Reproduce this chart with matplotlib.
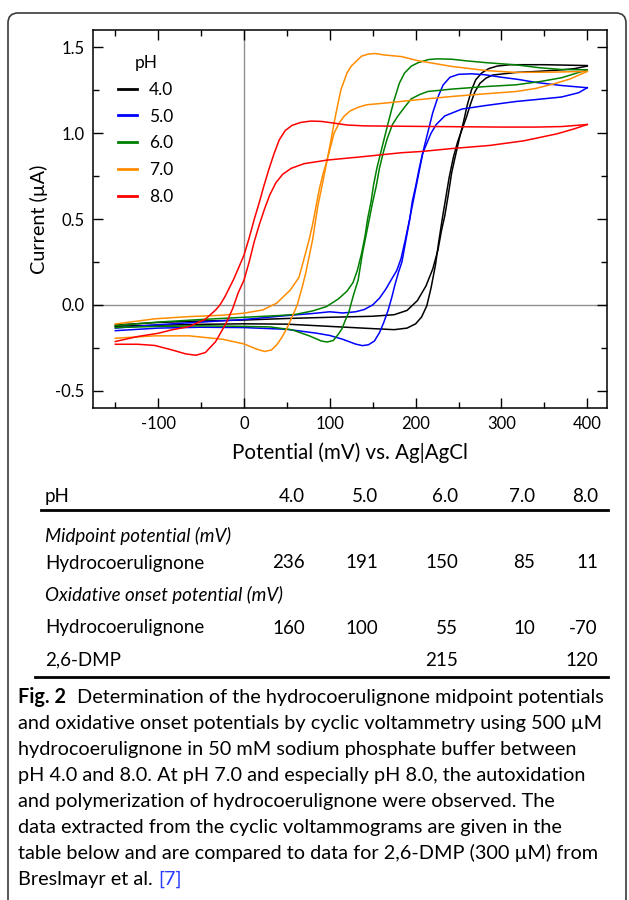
import matplotlib
matplotlib.use("Agg")
import matplotlib.pyplot as plt
from matplotlib.patches import FancyBboxPatch
from matplotlib.lines import Line2D
from matplotlib.ticker import MultipleLocator
from matplotlib.transforms import IdentityTransform

plt.rcParams['font.family'] = ['Lato', 'DejaVu Sans']
plt.rcParams['axes.unicode_minus'] = False

# ---- cyclic voltammograms ----
ph_labels = ["4.0", "5.0", "6.0", "7.0", "8.0"]
ph_colors = ["black", "#0000ff", "#008000", "#ff8c00", "#ff0000"]

# pH 4.0
e_fwd_40 = [-150, -100, -50, 0, 50, 100, 150, 175, 190, 202, 212, 220, 226, 230, 234, 238, 242,
            246, 251, 256, 260, 265, 270, 277, 285, 295, 310, 350, 400]
i_fwd_40 = [-0.117, -0.102, -0.094, -0.088, -0.079, -0.072, -0.066, -0.057, -0.032, 0.025, 0.11, 0.21,
            0.32, 0.43, 0.52, 0.64, 0.77, 0.86, 0.97, 1.07, 1.16, 1.25, 1.31, 1.35, 1.375, 1.39, 1.398,
            1.398, 1.393]
e_rev_40 = [-150, -100, -50, 0, 50, 100, 150, 175, 190, 200, 207, 213, 218, 223, 227, 231, 235, 239,
            244, 249, 254, 259, 264, 269, 275, 282, 290, 317, 345, 370, 385, 400]
i_rev_40 = [-0.124, -0.118, -0.113, -0.11, -0.112, -0.125, -0.138, -0.144, -0.135, -0.11, -0.07, -0.005,
            0.1, 0.23, 0.37, 0.5, 0.62, 0.74, 0.86, 0.95, 1.02, 1.09, 1.17, 1.24, 1.29, 1.32, 1.338,
            1.353, 1.36, 1.368, 1.375, 1.39]

# pH 5.0
e_fwd_50 = [-150, -100, -50, 0, 50, 80, 100, 115, 130, 140, 150, 158, 165, 172, 178, 183, 188, 193,
            197, 201, 205, 209, 214, 220, 226, 232, 240, 250, 265, 280, 300, 320, 340, 370, 400]
i_fwd_50 = [-0.135, -0.115, -0.1, -0.085, -0.062, -0.05, -0.04, -0.047, -0.04, -0.027, 0.0, 0.04, 0.09,
            0.15, 0.2, 0.27, 0.38, 0.5, 0.6, 0.7, 0.8, 0.9, 1.0, 1.12, 1.21, 1.28, 1.325, 1.342, 1.345,
            1.34, 1.325, 1.312, 1.295, 1.277, 1.264]
e_rev_50 = [-150, -100, -50, 0, 50, 85, 100, 115, 130, 138, 145, 152, 158, 163, 168, 172, 176, 180,
            184, 188, 193, 196, 200, 204, 208, 213, 218, 224, 234, 254, 281, 317, 340, 370, 390, 400]
i_rev_50 = [-0.15, -0.135, -0.13, -0.132, -0.142, -0.165, -0.178, -0.2, -0.228, -0.237, -0.232, -0.21,
            -0.16, -0.1, -0.03, 0.04, 0.12, 0.19, 0.25, 0.36, 0.494, 0.6, 0.69, 0.79, 0.88, 0.94, 1.0,
            1.05, 1.1, 1.14, 1.16, 1.184, 1.195, 1.21, 1.235, 1.264]

# pH 6.0
e_fwd_60 = [-150, -100, -50, 0, 40, 60, 80, 96, 110, 120, 127, 132, 137, 141, 144, 148, 151, 155, 159,
            163, 168, 175, 181, 187, 195, 203, 215, 225, 242, 260, 282, 317, 345, 370, 400]
i_fwd_60 = [-0.12, -0.1, -0.085, -0.072, -0.062, -0.055, -0.035, -0.01, 0.035, 0.08, 0.13, 0.2, 0.3, 0.4,
            0.5, 0.6, 0.7, 0.8, 0.88, 0.96, 1.06, 1.194, 1.29, 1.349, 1.39, 1.41, 1.428, 1.432, 1.43,
            1.42, 1.41, 1.397, 1.38, 1.37, 1.368]
e_rev_60 = [-150, -100, -50, 0, 30, 56, 76, 90, 97, 104, 110, 114, 118, 122, 127, 133, 138, 142, 146,
            150, 154, 158, 163, 167, 173, 179, 187, 195, 205, 214, 242, 282, 317, 345, 370, 400]
i_rev_60 = [-0.132, -0.125, -0.122, -0.125, -0.128, -0.145, -0.18, -0.21, -0.216, -0.207, -0.17, -0.14,
            -0.09, -0.045, 0.048, 0.145, 0.3, 0.4, 0.5, 0.6, 0.69, 0.8, 0.9, 0.97, 1.05, 1.097, 1.15,
            1.2, 1.225, 1.242, 1.256, 1.271, 1.281, 1.3, 1.322, 1.368]

# pH 7.0
e_fwd_70 = [-150, -104, -64, -25, 0, 22, 38, 54, 64, 70, 76, 80, 84, 88, 92, 97, 101, 105, 109, 113,
            120, 125, 137, 145, 153, 163, 184, 202, 242, 282, 317, 360, 400]
i_fwd_70 = [-0.111, -0.081, -0.068, -0.06, -0.048, -0.029, 0.01, 0.087, 0.16, 0.27, 0.382, 0.47, 0.576,
            0.68, 0.76, 0.847, 0.95, 1.06, 1.16, 1.254, 1.35, 1.39, 1.448, 1.46, 1.463, 1.455, 1.445,
            1.422, 1.388, 1.364, 1.353, 1.355, 1.359]
e_rev_70 = [-150, -104, -64, -25, 0, 15, 24, 32, 38, 44, 50, 58, 62, 68, 72, 80, 86, 92, 97, 105, 111,
            117, 124, 133, 143, 163, 202, 242, 282, 317, 340, 360, 380, 400]
i_rev_70 = [-0.194, -0.18, -0.18, -0.2, -0.227, -0.258, -0.271, -0.262, -0.233, -0.19, -0.136, -0.048,
            0.0, 0.107, 0.188, 0.382, 0.576, 0.72, 0.847, 1.0, 1.06, 1.1, 1.13, 1.15, 1.165, 1.174,
            1.194, 1.213, 1.229, 1.242, 1.26, 1.285, 1.315, 1.359]

# pH 8.0
e_fwd_80 = [-150, -124, -100, -84, -64, -45, -33, -28, -22, -17, -12, -6, 0, 6, 12, 18, 23, 29, 35, 41,
            48, 56, 66, 78, 90, 105, 120, 140, 180, 250, 300, 340, 370, 400]
i_fwd_80 = [-0.213, -0.184, -0.165, -0.145, -0.126, -0.083, -0.029, 0.0, 0.05, 0.1, 0.15, 0.22, 0.29,
            0.39, 0.5, 0.6, 0.69, 0.79, 0.88, 0.96, 1.015, 1.045, 1.062, 1.07, 1.068, 1.058, 1.047,
            1.042, 1.04, 1.037, 1.035, 1.035, 1.038, 1.05]
e_rev_80 = [-150, -124, -104, -84, -68, -56, -45, -33, -21, -13, -7, 0, 6, 12, 18, 24, 30, 37, 45, 55,
            70, 97, 137, 184, 207, 242, 286, 326, 365, 385, 400]
i_rev_80 = [-0.229, -0.229, -0.236, -0.262, -0.285, -0.293, -0.277, -0.213, -0.107, -0.019, 0.068,
            0.145, 0.25, 0.37, 0.47, 0.56, 0.64, 0.71, 0.76, 0.795, 0.822, 0.843, 0.862, 0.886, 0.893,
            0.91, 0.928, 0.955, 0.996, 1.025, 1.05]

scans = [(e_fwd_40, i_fwd_40, e_rev_40, i_rev_40),
         (e_fwd_50, i_fwd_50, e_rev_50, i_rev_50),
         (e_fwd_60, i_fwd_60, e_rev_60, i_rev_60),
         (e_fwd_70, i_fwd_70, e_rev_70, i_rev_70),
         (e_fwd_80, i_fwd_80, e_rev_80, i_rev_80)]

# ---- table below the plot ----
table_ph = ["4.0", "5.0", "6.0", "7.0", "8.0"]
midpoint_hcl = ["236", "191", "150", "85", "11"]
onset_hcl = ["160", "100", "55", "10", "-70"]
onset_dmp = ["", "", "215", "", "120"]

caption_lines = [
    "Determination of the hydrocoerulignone midpoint potentials",
    "and oxidative onset potentials by cyclic voltammetry using 500 \u00b5M",
    "hydrocoerulignone in 50 mM sodium phosphate buffer between",
    "pH 4.0 and 8.0. At pH 7.0 and especially pH 8.0, the autoxidation",
    "and polymerization of hydrocoerulignone were observed. The",
    "data extracted from the cyclic voltammograms are given in the",
    "table below and are compared to data for 2,6-DMP (300 \u00b5M) from",
    "Breslmayr et al. ",
]

W, H = 629, 900
fig = plt.figure(figsize=(W / 100, H / 100), dpi=100)


def fx(x):
    return x / W


def fy(y):
    return 1 - y / H


# rounded frame round the whole figure (open at the bottom)
frame = FancyBboxPatch((8, -30), 618, H - 13 + 30, boxstyle="round,pad=0,rounding_size=10",
                       transform=IdentityTransform(), fill=False, ec="#3a3a3a", lw=1.2)
fig.patches.append(frame)

ax = fig.add_axes([fx(93), fy(408), (607 - 93) / W, (408 - 30) / H])
ax.axhline(0, color="#909090", lw=1.0, zorder=1)
ax.axvline(0, color="#909090", lw=1.0, zorder=1)

handles = []
for (ef, i_f, er, i_r), lab, col in zip(scans, ph_labels, ph_colors):
    h, = ax.plot(ef, i_f, color=col, lw=1.1, zorder=3)
    ax.plot(er, i_r, color=col, lw=1.1, zorder=3)
    handles.append(h)

ax.set_xlim(-176, 423)
ax.set_ylim(-0.6, 1.6)
ax.xaxis.set_major_locator(MultipleLocator(100))
ax.xaxis.set_minor_locator(MultipleLocator(50))
ax.yaxis.set_major_locator(MultipleLocator(0.5))
ax.yaxis.set_minor_locator(MultipleLocator(0.25))
ax.tick_params(which="both", direction="in", top=True, right=True, width=1.0, labelsize=12)
ax.tick_params(which="major", length=7, pad=6)
ax.tick_params(which="minor", length=4)
for s in ax.spines.values():
    s.set_linewidth(1.1)

ax.set_xlabel("Potential (mV) vs. Ag|AgCl", fontsize=14.8, labelpad=7)
ax.set_ylabel("Current (\u00b5A)", fontsize=14.3, labelpad=5)

leg = ax.legend(handles, ph_labels, title="pH", loc="upper left",
                bbox_to_anchor=((118 - 93) / 514, 1 - (55 - 30) / 378),
                frameon=False, fontsize=12.5, title_fontsize=12.5, handlelength=1.1,
                handletextpad=0.7, labelspacing=0.62, borderpad=0, borderaxespad=0)
for ln in leg.get_lines():
    ln.set_linewidth(2.0)

# table
tfs = 13.5
col_right = [305, 378, 458, 535, 598]
fig.text(fx(45), fy(497), "pH", fontsize=tfs, va="center")
for x, v in zip(col_right, table_ph):
    fig.text(fx(x), fy(497), v, fontsize=tfs, va="center", ha="right")
fig.add_artist(Line2D([fx(41), fx(608)], [fy(510), fy(510)], color="black", lw=2.0))
fig.text(fx(45), fy(536), "Midpoint potential (mV)", fontsize=tfs, va="center", style="italic")
fig.text(fx(45), fy(563), "Hydrocoerulignone", fontsize=tfs, va="center")
for x, v in zip(col_right, midpoint_hcl):
    fig.text(fx(x), fy(563), v, fontsize=tfs, va="center", ha="right")
fig.text(fx(45), fy(595), "Oxidative onset potential (mV)", fontsize=tfs, va="center", style="italic")
fig.text(fx(45), fy(628), "Hydrocoerulignone", fontsize=tfs, va="center")
for x, v in zip(col_right, onset_hcl):
    fig.text(fx(x), fy(628), v, fontsize=tfs, va="center", ha="right")
fig.text(fx(45), fy(660), "2,6-DMP", fontsize=tfs, va="center")
for x, v in zip(col_right, onset_dmp):
    if v:
        fig.text(fx(x), fy(660), v, fontsize=tfs, va="center", ha="right")
fig.add_artist(Line2D([fx(35), fx(608)], [fy(677), fy(677)], color="black", lw=2.0))

# caption
cfs = 14.3
renderer = fig.canvas.get_renderer()
t = fig.text(fx(18), fy(697), "Fig. 2", fontsize=cfs, weight="bold", va="center")
bb = t.get_window_extent(renderer)
fig.text(bb.x1 / W + fx(11), fy(697), caption_lines[0], fontsize=cfs, va="center")
for k, line in enumerate(caption_lines[1:]):
    y = 723 + 26 * k
    t = fig.text(fx(18), fy(y), line, fontsize=cfs, va="center")
    if k == len(caption_lines) - 2:
        bb = t.get_window_extent(renderer)
        fig.text(bb.x1 / W, fy(y), "[7]", fontsize=cfs, va="center", color="#2a3cff")

fig.savefig("out.png", dpi=100)
